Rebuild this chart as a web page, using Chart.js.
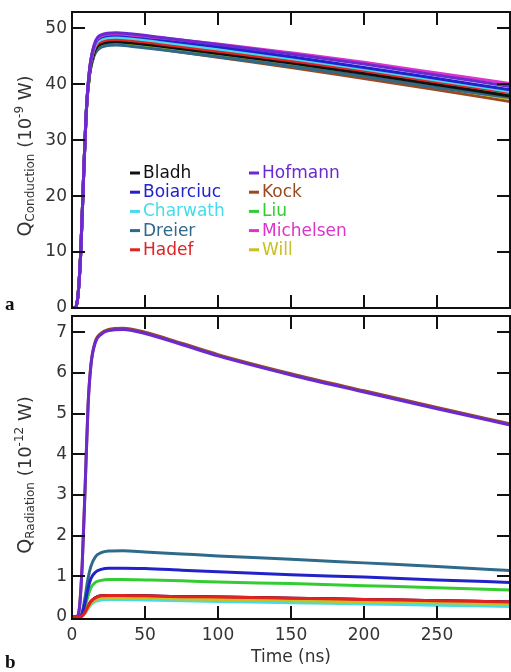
<!DOCTYPE html>
<html>
<head>
<meta charset="utf-8">
<script src="https://cdn.jsdelivr.net/npm/chart.js@4.4.1/dist/chart.umd.min.js"></script>
<style>
  html, body { margin: 0; padding: 0; background: #fff; }
  #wrap { position: relative; width: 511px; height: 672px; overflow: hidden; background: #fff; }
  #c1 { position: absolute; left: 0; top: 0; }
  #c2 { position: absolute; left: 0; top: 313px; }
</style>
</head>
<body>
<div id="wrap">
  <canvas id="c1" width="511" height="313" style="width:511px;height:313px"></canvas>
  <canvas id="c2" width="511" height="359" style="width:511px;height:359px"></canvas>
</div>
<script>
// ---------- data ----------
const seriesNames  = ['Bladh', 'Boiarciuc', 'Charwath', 'Dreier', 'Hadef', 'Hofmann', 'Kock', 'Liu', 'Michelsen', 'Will'];
const seriesColors = ['#111111', '#2222cc', '#44dcec', '#2f6a8a', '#e02222', '#6a2ad0', '#9a4a20', '#33cc33', '#dd33cc', '#c8c020'];

// panel a: conduction (10^-9 W) vs time (ns)
const timeCond = [0, 2, 4, 6, 8, 10, 12, 15, 20, 30, 40, 60, 100, 150, 200, 250, 300];
const condBladh     = [0, 0, 2, 10, 24, 36, 41.8, 45.5, 47.2, 47.6, 47.4, 46.8, 45.5, 43.8, 41.9, 39.9, 37.9];
const condBoiarciuc = [0, 0, 2, 10, 24, 36, 42.5, 46.6, 48.4, 48.8, 48.6, 48.0, 46.7, 44.9, 43.0, 41.0, 39.0];
const condCharwath  = [0, 0, 2, 10, 24, 36, 42.4, 46.3, 48.0, 48.4, 48.2, 47.6, 46.3, 44.6, 42.7, 40.7, 38.7];
const condDreier    = [0, 0, 2, 10, 24, 36, 41.6, 45.0, 46.6, 47.0, 46.8, 46.2, 44.9, 43.2, 41.4, 39.4, 37.6];
const condHadef     = [0, 0, 2, 10, 24, 36, 42.2, 46.0, 47.6, 48.0, 47.8, 47.2, 45.9, 44.2, 42.4, 40.4, 38.5];
const condHofmann   = [0, 0, 2, 10, 24, 36, 42.6, 46.9, 48.8, 49.2, 49.0, 48.4, 47.1, 45.4, 43.6, 41.6, 39.6];
const condKock      = [0, 0, 2, 10, 24, 36, 41.7, 45.2, 46.8, 47.2, 47.0, 46.3, 44.8, 43.0, 41.0, 39.0, 36.9];
const condLiu       = [0, 0, 2, 10, 24, 36, 41.8, 45.5, 47.2, 47.6, 47.4, 46.8, 45.5, 43.9, 42.0, 40.1, 38.1];
const condMichelsen = [0, 0, 2, 10, 24, 36, 42.5, 46.7, 48.6, 49.0, 48.8, 48.3, 47.2, 45.6, 43.9, 42.0, 40.1];
const condWill      = [0, 0, 2, 10, 24, 36, 41.7, 45.3, 47.0, 47.4, 47.2, 46.5, 45.1, 43.4, 41.5, 39.5, 37.4];

// panel b: radiation (10^-12 W) vs time (ns)
const timeRad = [0, 3, 5, 7, 9, 11, 13, 16, 20, 25, 35, 50, 75, 100, 150, 200, 250, 300];
const radBladh     = [0, 0, 0, 0.03, 0.12, 0.26, 0.38, 0.47, 0.52, 0.53, 0.53, 0.52, 0.50, 0.49, 0.46, 0.43, 0.40, 0.37];
const radBoiarciuc = [0, 0, 0, 0.08, 0.35, 0.70, 0.95, 1.10, 1.17, 1.20, 1.20, 1.19, 1.15, 1.11, 1.04, 0.98, 0.91, 0.85];
const radCharwath  = [0, 0, 0, 0.03, 0.10, 0.20, 0.30, 0.38, 0.42, 0.43, 0.43, 0.42, 0.40, 0.38, 0.35, 0.32, 0.29, 0.26];
const radDreier    = [0, 0, 0, 0.12, 0.50, 0.95, 1.25, 1.48, 1.58, 1.62, 1.63, 1.60, 1.55, 1.50, 1.42, 1.33, 1.24, 1.14];
const radHadef     = [0, 0, 0, 0.03, 0.12, 0.26, 0.38, 0.47, 0.52, 0.53, 0.53, 0.52, 0.50, 0.49, 0.46, 0.43, 0.40, 0.37];
const radHofmann   = [0, 0, 0.2, 1.3, 3.2, 5.2, 6.2, 6.75, 6.95, 7.04, 7.07, 6.97, 6.70, 6.42, 5.95, 5.53, 5.12, 4.72];
const radKock      = [0, 0, 0.2, 1.3, 3.2, 5.2, 6.22, 6.78, 6.98, 7.07, 7.10, 7.00, 6.73, 6.45, 5.98, 5.56, 5.15, 4.75];
const radLiu       = [0, 0, 0, 0.06, 0.25, 0.52, 0.72, 0.85, 0.90, 0.92, 0.92, 0.91, 0.89, 0.86, 0.82, 0.77, 0.72, 0.66];
const radMichelsen = [0, 0, 0, 0.03, 0.12, 0.26, 0.38, 0.47, 0.52, 0.53, 0.53, 0.52, 0.50, 0.49, 0.46, 0.43, 0.40, 0.37];
const radWill      = [0, 0, 0, 0.02, 0.10, 0.22, 0.33, 0.42, 0.46, 0.47, 0.47, 0.46, 0.44, 0.43, 0.40, 0.37, 0.35, 0.32];

const xTickStep = 50;
const xTickLastLabel = 250;
const condTickStep = 10;
const radTickStep = 1;

const condSeries = [condBladh, condBoiarciuc, condCharwath, condDreier, condHadef, condHofmann, condKock, condLiu, condMichelsen, condWill];
const radSeries  = [radBladh, radBoiarciuc, radCharwath, radDreier, radHadef, radHofmann, radKock, radLiu, radMichelsen, radWill];

// drawing order (lower = drawn on top)
const condOrder = [5, 3, 4, 6, 4, 1, 7, 5, 2, 6];
const radOrder  = [4, 2, 3, 2, 1, 1, 3, 2, 4, 2];

// ---------- styling helpers ----------
const FONT = 'DejaVu Sans';
const AXIS_COLOR = '#111';
const TEXT_COLOR = '#333';

const framePlugin = {
  id: 'frame',
  afterDraw(chart) {
    const { ctx, chartArea: a, scales: { x, y } } = chart;
    const tl = 13;
    ctx.save();
    ctx.strokeStyle = AXIS_COLOR;
    ctx.lineWidth = 2;
    ctx.strokeRect(a.left, a.top, a.right - a.left, a.bottom - a.top);
    ctx.beginPath();
    x.ticks.forEach(t => {
      const px = Math.round(x.getPixelForValue(t.value));
      if (px <= a.left + 2 || px >= a.right - 2) return;
      ctx.moveTo(px, a.top); ctx.lineTo(px, a.top + tl);
      ctx.moveTo(px, a.bottom); ctx.lineTo(px, a.bottom - tl);
    });
    y.ticks.forEach(t => {
      const py = Math.round(y.getPixelForValue(t.value));
      if (py <= a.top + 2 || py >= a.bottom - 2) return;
      ctx.moveTo(a.left, py); ctx.lineTo(a.left + tl, py);
      ctx.moveTo(a.right, py); ctx.lineTo(a.right - tl, py);
    });
    ctx.stroke();
    ctx.restore();
  }
};

function richTitlePlugin(id, cx, cy, parts, letter, letterY) {
  return {
    id,
    afterDraw(chart) {
      const ctx = chart.ctx;
      ctx.save();
      ctx.fillStyle = TEXT_COLOR;
      ctx.textBaseline = 'alphabetic';
      ctx.textAlign = 'left';
      let total = 0;
      parts.forEach(p => { ctx.font = p.size + 'px "' + FONT + '"'; p.w = ctx.measureText(p.text).width; total += p.w; });
      ctx.translate(cx, cy);
      ctx.rotate(-Math.PI / 2);
      let xx = -total / 2;
      parts.forEach(p => {
        ctx.font = p.size + 'px "' + FONT + '"';
        ctx.fillText(p.text, xx, p.dy);
        xx += p.w;
      });
      ctx.restore();
      ctx.save();
      ctx.fillStyle = '#111';
      ctx.font = 'bold 19px "Liberation Serif"';
      ctx.textBaseline = 'alphabetic';
      ctx.fillText(letter, 5, letterY);
      ctx.restore();
    }
  };
}

const legendPlugin = {
  id: 'legendBox',
  afterDraw(chart) {
    const ctx = chart.ctx;
    ctx.save();
    ctx.font = '17px "' + FONT + '"';
    ctx.textBaseline = 'middle';
    const rowY0 = 173, rowDy = 19.2;
    const cols = [{ dash: 130, text: 143 }, { dash: 249, text: 262 }];
    seriesNames.forEach((name, i) => {
      const col = cols[Math.floor(i / 5)];
      const yy = rowY0 + (i % 5) * rowDy;
      ctx.fillStyle = seriesColors[i];
      ctx.fillRect(col.dash, yy - 1.5, 10, 3);
      ctx.fillText(name, col.text, yy + 0.5);
    });
    ctx.restore();
  }
};

function makeDatasets(times, series, order) {
  return seriesNames.map((name, i) => ({
    label: name,
    data: times.map((t, j) => ({ x: t, y: series[i][j] })),
    borderColor: seriesColors[i],
    backgroundColor: seriesColors[i],
    borderWidth: 3,
    pointRadius: 0,
    fill: false,
    cubicInterpolationMode: 'monotone',
    order: order[i]
  }));
}

const tickFont = { family: FONT, size: 17 };
function noPad(s) { s.paddingTop = 0; s.paddingBottom = 0; s.paddingLeft = 0; s.paddingRight = 0; }

// ---------- panel a ----------
new Chart(document.getElementById('c1'), {
  type: 'line',
  data: { datasets: makeDatasets(timeCond, condSeries, condOrder) },
  options: {
    responsive: false,
    animation: false,
    layout: { padding: { top: 12, right: 1, bottom: 5, left: 0 } },
    plugins: { legend: { display: false }, tooltip: { enabled: false } },
    scales: {
      x: {
        type: 'linear', min: 0, max: 300,
        ticks: { display: false, stepSize: xTickStep },
        grid: { display: false, drawTicks: false },
        border: { display: false },
        afterFit(s) { s.height = 0; noPad(s); }
      },
      y: {
        min: 0, max: 52.9,
        ticks: { stepSize: condTickStep, includeBounds: false, padding: 5, color: TEXT_COLOR, font: tickFont },
        grid: { display: false, drawTicks: false },
        border: { display: false },
        afterFit(s) { s.width = 72; noPad(s); }
      }
    }
  },
  plugins: [
    framePlugin,
    legendPlugin,
    richTitlePlugin('titleA', 31, 156, [
      { text: 'Q', size: 19, dy: 0 },
      { text: 'Conduction', size: 12, dy: 3 },
      { text: ' (10', size: 18, dy: 0 },
      { text: '-9', size: 12, dy: -8 },
      { text: ' W)', size: 18, dy: 0 }
    ], 'a', 310)
  ]
});

// ---------- panel b ----------
new Chart(document.getElementById('c2'), {
  type: 'line',
  data: { datasets: makeDatasets(timeRad, radSeries, radOrder) },
  options: {
    responsive: false,
    animation: false,
    layout: { padding: { top: 3, right: 1, bottom: 0, left: 0 } },
    plugins: { legend: { display: false }, tooltip: { enabled: false } },
    scales: {
      x: {
        type: 'linear', min: 0, max: 300,
        ticks: {
          stepSize: xTickStep, padding: 6, color: TEXT_COLOR, font: tickFont, maxRotation: 0,
          callback: v => (v > xTickLastLabel ? '' : String(v))
        },
        grid: { display: false, drawTicks: false },
        border: { display: false },
        title: { display: true, text: 'Time (ns)', color: TEXT_COLOR, font: { family: FONT, size: 17 }, padding: { top: 0, bottom: 4 } },
        afterFit(s) { s.height = 53; noPad(s); }
      },
      y: {
        min: -0.05, max: 7.4,
        ticks: { stepSize: radTickStep, includeBounds: false, padding: 5, color: TEXT_COLOR, font: tickFont },
        grid: { display: false, drawTicks: false },
        border: { display: false },
        afterFit(s) { s.width = 72; noPad(s); }
      }
    }
  },
  plugins: [
    framePlugin,
    richTitlePlugin('titleB', 31, 162, [
      { text: 'Q', size: 19, dy: 0 },
      { text: 'Radiation', size: 12, dy: 3 },
      { text: ' (10', size: 18, dy: 0 },
      { text: '-12', size: 12, dy: -8 },
      { text: ' W)', size: 18, dy: 0 }
    ], 'b', 355)
  ]
});
</script>
</body>
</html>
